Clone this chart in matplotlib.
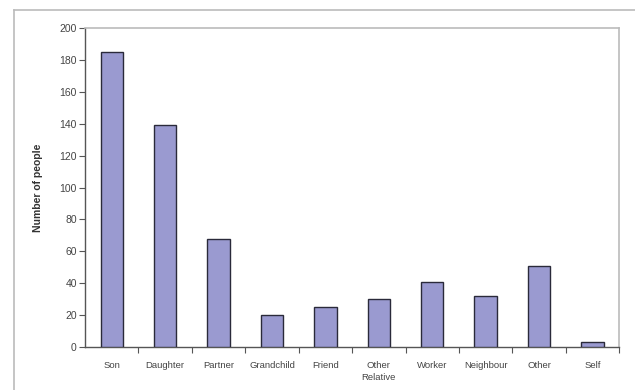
import matplotlib.pyplot as plt
from matplotlib.lines import Line2D

# who the people are, and how many in each group
categories = ["Son", "Daughter", "Partner", "Grandchild", "Friend",
              "Other\nRelative", "Worker", "Neighbour", "Other", "Self"]
counts = [185, 139, 68, 20, 25, 30, 41, 32, 51, 3]
y_ticks = [0, 20, 40, 60, 80, 100, 120, 140, 160, 180, 200]

plt.rcParams['font.family'] = ['Liberation Sans', 'DejaVu Sans']

fig = plt.figure(figsize=(6.35, 3.9), dpi=100)
ax = fig.add_axes([0.134, 0.110, 0.841, 0.818])

x = list(range(len(categories)))
ax.bar(x, counts, width=0.42, color="#9a9ad0", edgecolor="#2a2a3a", linewidth=1.0, zorder=3)

ax.set_xlim(-0.5, len(categories) - 0.5)
ax.set_ylim(0, 200)
ax.set_yticks(y_ticks)
ax.tick_params(axis='y', direction='out', length=4, width=0.8, color="#555555",
               labelsize=7.5, labelcolor="#444444", pad=2)

# category labels centred on the bars, tick marks between them
ax.set_xticks(x)
ax.set_xticklabels(categories, fontsize=6.8, color="#444444", linespacing=1.5)
ax.set_xticks([i + 0.5 for i in x], minor=True)
ax.tick_params(axis='x', which='major', length=0, pad=10)
ax.tick_params(axis='x', which='minor', direction='out', length=4, width=0.8, color="#555555")

ax.set_ylabel("Number of people", fontsize=7.5, fontweight='bold', color="#333333", labelpad=12)

for side in ["left", "bottom"]:
    ax.spines[side].set_color("#555555")
    ax.spines[side].set_linewidth(1.0)
for side in ["top", "right"]:
    ax.spines[side].set_color("#bbbbbb")
    ax.spines[side].set_linewidth(1.2)

# outer chart border (top and left edges)
fig.add_artist(Line2D([14 / 635, 1.0], [1 - 10 / 390, 1 - 10 / 390], color="#bbbbbb", linewidth=1.2))
fig.add_artist(Line2D([14 / 635, 14 / 635], [0.0, 1 - 10 / 390], color="#bbbbbb", linewidth=1.2))

fig.savefig("out.png", dpi=100)
